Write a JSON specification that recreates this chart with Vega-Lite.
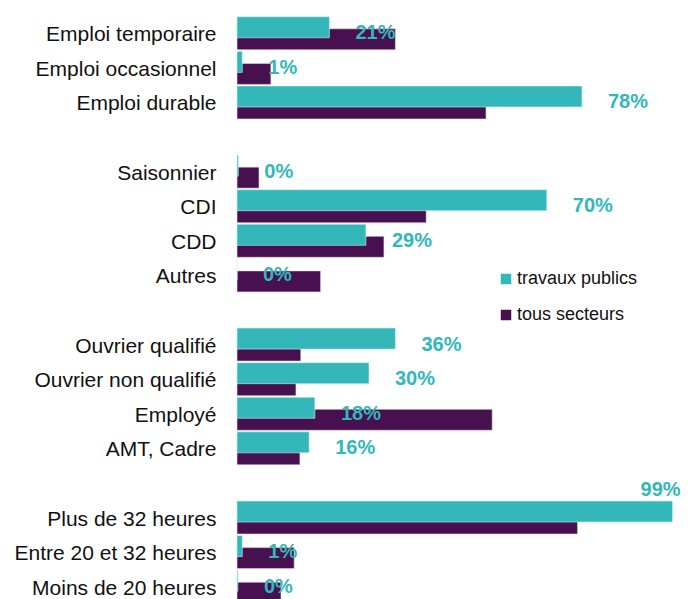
{
  "$schema": "https://vega.github.io/schema/vega-lite/v6.json",
  "width": 440,
  "height": 588,
  "autosize": {"type": "none"},
  "padding": {"left": 237, "top": 16, "right": 16, "bottom": 0},
  "background": "white",
  "config": {"view": {"stroke": null}, "font": "Liberation Sans"},
  "data": {
    "values": [
      {"categorie": "Emploi temporaire", "serie": "tous secteurs", "valeur": 0.36},
      {"categorie": "Emploi occasionnel", "serie": "tous secteurs", "valeur": 0.077},
      {"categorie": "Emploi durable", "serie": "tous secteurs", "valeur": 0.566},
      {"categorie": "Saisonnier", "serie": "tous secteurs", "valeur": 0.05},
      {"categorie": "CDI", "serie": "tous secteurs", "valeur": 0.43},
      {"categorie": "CDD", "serie": "tous secteurs", "valeur": 0.334},
      {"categorie": "Autres", "serie": "tous secteurs", "valeur": 0.19},
      {"categorie": "Ouvrier qualifié", "serie": "tous secteurs", "valeur": 0.145},
      {"categorie": "Ouvrier non qualifié", "serie": "tous secteurs", "valeur": 0.134},
      {"categorie": "Employé", "serie": "tous secteurs", "valeur": 0.58},
      {"categorie": "AMT, Cadre", "serie": "tous secteurs", "valeur": 0.143},
      {"categorie": "Plus de 32 heures", "serie": "tous secteurs", "valeur": 0.774},
      {"categorie": "Entre 20 et 32 heures", "serie": "tous secteurs", "valeur": 0.13},
      {"categorie": "Moins de 20 heures", "serie": "tous secteurs", "valeur": 0.10},
      {"categorie": "Emploi temporaire", "serie": "travaux publics", "valeur": 0.21},
      {"categorie": "Emploi occasionnel", "serie": "travaux publics", "valeur": 0.012},
      {"categorie": "Emploi durable", "serie": "travaux publics", "valeur": 0.784},
      {"categorie": "Saisonnier", "serie": "travaux publics", "valeur": 0.003},
      {"categorie": "CDI", "serie": "travaux publics", "valeur": 0.704},
      {"categorie": "CDD", "serie": "travaux publics", "valeur": 0.293},
      {"categorie": "Autres", "serie": "travaux publics", "valeur": 0.0},
      {"categorie": "Ouvrier qualifié", "serie": "travaux publics", "valeur": 0.36},
      {"categorie": "Ouvrier non qualifié", "serie": "travaux publics", "valeur": 0.30},
      {"categorie": "Employé", "serie": "travaux publics", "valeur": 0.177},
      {"categorie": "AMT, Cadre", "serie": "travaux publics", "valeur": 0.164},
      {"categorie": "Plus de 32 heures", "serie": "travaux publics", "valeur": 0.99},
      {"categorie": "Entre 20 et 32 heures", "serie": "travaux publics", "valeur": 0.012},
      {"categorie": "Moins de 20 heures", "serie": "travaux publics", "valeur": 0.002}
    ]
  },
  "encoding": {
    "y": {
      "field": "categorie",
      "type": "nominal",
      "scale": {
        "domain": ["Emploi temporaire", "Emploi occasionnel", "Emploi durable", " ", "Saisonnier", "CDI", "CDD", "Autres", "  ", "Ouvrier qualifié", "Ouvrier non qualifié", "Employé", "AMT, Cadre", "   ", "Plus de 32 heures", "Entre 20 et 32 heures", "Moins de 20 heures"],
        "paddingInner": 0.306,
        "paddingOuter": 0.153
      },
      "axis": {
        "title": null,
        "domain": false,
        "ticks": false,
        "labelPadding": 21,
        "labelOffset": 2,
        "labelFontSize": 21,
        "labelColor": "#111111",
        "labelFont": "Liberation Sans",
        "labelLimit": 300
      }
    },
    "x": {
      "field": "valeur",
      "type": "quantitative",
      "scale": {"domain": [0, 1], "nice": false},
      "axis": null
    }
  },
  "layer": [
    {
      "transform": [{"filter": "datum.serie === 'tous secteurs'"}],
      "mark": {"type": "bar", "height": 21, "stroke": "#e6dde8", "strokeWidth": 0.6},
      "encoding": {
        "yOffset": {"field": "serie", "type": "nominal", "scale": {"domain": ["travaux publics", "tous secteurs"], "paddingInner": 0, "paddingOuter": 0}},
        "color": {
          "field": "serie",
          "type": "nominal",
          "scale": {"domain": ["travaux publics", "tous secteurs"], "range": ["#34B7B9", "#46114E"]},
          "legend": {
            "title": null,
            "orient": "none",
            "legendX": 260,
            "legendY": 254,
            "symbolType": "square",
            "symbolSize": 110,
            "symbolStrokeWidth": 0,
            "labelFontSize": 18,
            "labelColor": "#111111",
            "labelOffset": 2,
            "rowPadding": 18,
            "padding": 0
          }
        }
      }
    },
    {
      "transform": [{"filter": "datum.serie === 'travaux publics'"}],
      "mark": {"type": "bar", "height": 21, "stroke": "#d8f0f0", "strokeWidth": 0.6},
      "encoding": {
        "yOffset": {"field": "serie", "type": "nominal", "scale": {"domain": ["travaux publics", "tous secteurs"], "paddingInner": 0, "paddingOuter": 0}},
        "color": {"field": "serie", "type": "nominal"}
      }
    },
    {
      "transform": [{"filter": "datum.serie === 'travaux publics' && datum.valeur < 0.9"}],
      "mark": {"type": "text", "align": "left", "baseline": "middle", "dx": 26, "fontSize": 20, "fontWeight": "bold", "color": "#34B7B9"},
      "encoding": {
        "text": {"field": "valeur", "type": "quantitative", "format": ".0%"}
      }
    },
    {
      "transform": [{"filter": "datum.serie === 'travaux publics' && datum.valeur >= 0.9"}],
      "mark": {"type": "text", "align": "right", "baseline": "middle", "dx": 8, "dy": -28, "fontSize": 20, "fontWeight": "bold", "color": "#34B7B9"},
      "encoding": {
        "text": {"field": "valeur", "type": "quantitative", "format": ".0%"}
      }
    }
  ]
}
